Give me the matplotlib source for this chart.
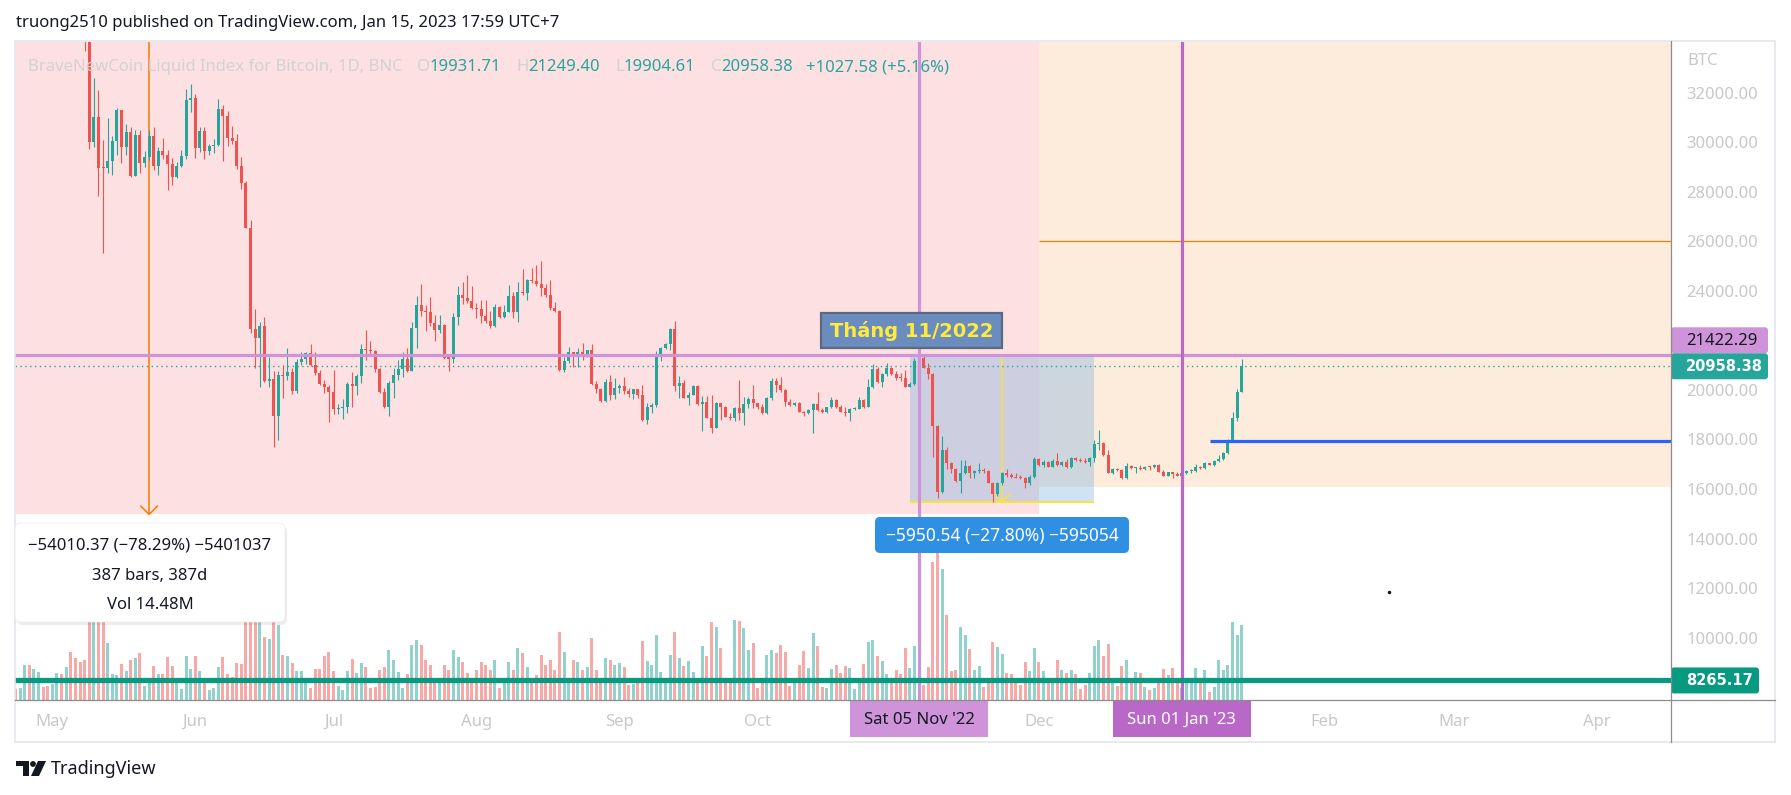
import datetime as dt
import numpy as np
import matplotlib
matplotlib.use("Agg")
import matplotlib.pyplot as plt
import matplotlib.dates as mdates
from matplotlib.patches import Rectangle, FancyBboxPatch, Polygon, Circle

plt.rcParams['font.family'] = ['Noto Sans', 'DejaVu Sans']

# ---------------- data: BNC:BLX daily, prices in thousand USD ----------------
start_day = dt.date(2022, 4, 23)
first_open = 39.70

closes = [
    39.45, 39.45, 40.43, 38.12, 39.24, 39.74, 38.60, 37.71,            # Apr 23-30
    38.47, 38.53, 37.75, 39.70, 36.58, 36.04, 35.50, 34.06, 30.03, 31.02,
    28.98, 28.96, 29.25, 30.06, 31.31, 29.83, 30.41, 28.65, 30.30, 29.16,
    29.43, 30.26, 29.05, 29.65, 29.49, 29.13, 28.59, 29.05, 29.45, 31.72, 31.78,  # May
    29.79, 30.48, 29.66, 29.86, 29.90, 31.35, 31.07, 30.19, 30.07, 29.05,
    28.38, 26.56, 22.45, 22.11, 22.59, 20.38, 20.43, 18.95, 20.61, 20.57,
    20.74, 19.97, 21.15, 21.24, 21.48, 21.01, 20.70, 20.24, 20.13, 19.93,  # Jun
    19.23, 19.26, 19.30, 20.24, 20.18, 20.57, 21.66, 21.62, 21.59, 20.86,
    19.92, 19.31, 20.28, 20.62, 20.85, 21.25, 20.78, 22.49, 23.43, 23.21,
    23.16, 22.69, 22.43, 22.63, 21.31, 21.27, 22.96, 23.85, 23.73, 23.61, 23.30,  # Jul
    23.27, 22.99, 22.80, 22.58, 23.34, 22.96, 23.16, 23.81, 23.17, 23.97,
    23.93, 24.44, 24.39, 24.28, 24.11, 23.84, 23.30, 23.19, 20.81, 21.17,
    21.52, 21.39, 21.52, 21.39, 21.60, 20.24, 20.05, 19.56, 20.31, 19.80, 20.08,  # Aug
    20.18, 19.96, 19.83, 20.03, 19.81, 18.79, 19.33, 19.38, 21.37, 21.68,
    21.85, 22.45, 20.16, 20.27, 19.69, 19.80, 20.16, 19.44, 19.53, 18.88,
    18.48, 19.46, 19.30, 18.92, 18.86, 19.26, 19.08, 19.43, 19.63, 19.46,  # Sep
    19.33, 19.06, 19.69, 20.36, 20.20, 20.00, 19.53, 19.39, 19.49, 19.12,
    19.08, 19.19, 19.43, 19.19, 19.10, 19.30, 19.60, 19.33, 19.12, 19.06,
    19.22, 19.25, 19.60, 19.33, 20.12, 20.83, 20.31, 20.63, 20.88, 20.64, 20.50,  # Oct
    20.47, 20.14, 20.26, 21.17, 21.30, 20.90, 20.63, 18.55, 15.86, 17.57,
    17.04, 16.79, 16.34, 16.66, 16.93, 16.63, 16.71, 16.75, 16.74, 16.26,
    15.78, 16.23, 16.66, 16.57, 16.50, 16.46, 16.43, 16.23, 16.50, 17.21,  # Nov
    16.97, 17.10, 16.90, 17.14, 16.97, 17.10, 16.88, 17.24, 17.17, 17.13,
    17.10, 17.27, 17.80, 17.85, 17.37, 16.66, 16.79, 16.77, 16.46, 16.93,
    16.84, 16.84, 16.79, 16.90, 16.87, 16.97, 16.70, 16.54, 16.67, 16.59, 16.54,  # Dec
    16.63, 16.73, 16.74, 16.90, 16.84, 17.04, 16.97, 17.14, 17.21, 17.47,
    17.98, 18.86, 19.93171, 20.95838,                                    # Jan
]
highs = [
    39.95, 39.90, 40.60, 40.80, 39.45, 40.30, 39.90, 38.80,
    38.65, 39.10, 38.60, 39.90, 39.80, 36.65, 36.10, 35.50, 34.30, 32.59,
    32.12, 30.10, 30.98, 30.26, 31.38, 31.31, 30.75, 30.61, 30.50, 30.50,
    29.67, 30.50, 30.61, 29.83, 30.17, 29.70, 29.36, 29.23, 29.70, 32.15, 32.36,
    31.96, 30.61, 30.61, 29.94, 30.13, 31.74, 31.50, 31.28, 30.67, 30.33,
    29.40, 28.45, 26.87, 23.26, 22.76, 22.94, 21.35, 20.77, 20.77, 21.01,
    21.68, 20.88, 21.24, 21.55, 21.55, 21.86, 21.55, 20.81, 20.40, 20.20,
    20.81, 19.43, 19.62, 20.32, 20.73, 20.65, 21.86, 22.42, 21.98, 21.62,
    20.89, 20.10, 20.35, 20.89, 21.21, 21.55, 21.68, 22.73, 23.80, 24.28,
    23.42, 23.74, 23.03, 23.03, 22.67, 21.35, 23.12, 24.20, 24.36, 24.65, 24.20,
    23.50, 23.64, 23.64, 23.21, 23.47, 23.40, 23.43, 24.24, 23.97, 24.38,
    24.87, 24.47, 24.92, 25.05, 25.21, 24.27, 24.44, 23.57, 23.23, 21.35,
    21.74, 21.55, 21.68, 21.88, 21.63, 21.86, 20.35, 20.08, 20.43, 20.61, 20.50,
    20.24, 20.51, 20.08, 20.05, 20.05, 20.20, 19.46, 19.49, 21.58, 21.75,
    21.90, 22.50, 22.79, 20.57, 20.40, 19.93, 20.20, 20.20, 19.77, 19.77,
    19.80, 19.53, 19.49, 19.35, 19.06, 19.30, 20.40, 19.73, 19.70, 20.20,
    19.49, 19.42, 19.73, 20.47, 20.47, 20.51, 20.03, 19.62, 19.52, 19.53,
    19.15, 19.22, 19.49, 19.93, 19.26, 19.33, 19.73, 19.64, 19.38, 19.33,
    19.26, 19.33, 19.72, 19.62, 20.43, 21.04, 20.94, 20.68, 21.08, 20.94, 20.78,
    20.70, 20.81, 20.34, 21.28, 21.42, 21.37, 21.10, 20.68, 18.59, 18.14,
    17.71, 17.10, 16.84, 17.17, 17.17, 16.97, 16.77, 17.04, 16.84, 16.77,
    16.30, 16.30, 16.69, 16.80, 16.66, 16.66, 16.57, 16.50, 16.57, 17.28,
    17.27, 17.17, 17.14, 17.20, 17.44, 17.13, 17.20, 17.31, 17.31, 17.24,
    17.24, 17.31, 17.98, 18.38, 17.88, 17.57, 16.84, 16.86, 16.82, 17.06,
    16.97, 16.90, 16.97, 16.92, 16.93, 16.99, 17.01, 16.77, 16.70, 16.70, 16.67,
    16.66, 16.77, 16.80, 17.01, 16.94, 17.10, 17.06, 17.17, 17.37, 17.51,
    18.01, 19.12, 20.03, 21.2494,
]
lows = [
    39.30, 39.20, 38.20, 37.70, 37.90, 38.90, 38.20, 37.60,
    37.40, 38.00, 37.50, 37.60, 35.60, 35.30, 34.80, 33.70, 29.75, 29.83,
    27.85, 25.52, 28.75, 28.69, 29.49, 29.16, 29.49, 28.60, 28.64, 28.75,
    29.02, 29.29, 28.89, 28.69, 29.32, 28.08, 28.28, 28.55, 29.00, 29.32, 31.25,
    29.39, 29.63, 29.32, 29.49, 29.56, 29.86, 29.27, 29.86, 29.94, 28.92,
    28.11, 26.53, 22.30, 20.90, 20.13, 20.34, 20.13, 17.68, 17.98, 19.69,
    20.40, 19.83, 19.89, 21.01, 21.04, 20.95, 20.61, 20.20, 19.89, 18.72,
    19.03, 19.02, 18.83, 19.08, 19.30, 19.80, 20.30, 21.21, 21.37, 20.73,
    19.88, 19.27, 18.95, 19.69, 20.40, 20.54, 20.74, 20.78, 21.68, 22.99,
    22.40, 22.60, 21.99, 22.32, 21.26, 20.78, 21.10, 22.63, 23.47, 23.52, 23.26,
    22.90, 22.72, 22.72, 22.49, 22.55, 22.90, 22.89, 23.15, 22.90, 22.76,
    23.85, 23.64, 24.31, 24.20, 23.81, 23.74, 23.23, 23.15, 20.75, 20.74,
    21.10, 20.94, 20.94, 21.21, 21.35, 20.19, 19.87, 19.53, 19.52, 19.60, 19.65,
    19.87, 19.84, 19.73, 19.64, 19.68, 18.75, 18.61, 19.08, 19.33, 21.19,
    21.64, 21.62, 19.97, 19.69, 19.66, 19.40, 19.78, 19.40, 18.36, 18.85,
    18.28, 18.45, 18.79, 18.90, 18.79, 18.76, 18.79, 18.59, 19.26, 19.26,
    19.22, 19.03, 19.03, 19.60, 19.93, 19.93, 19.36, 19.36, 19.36, 19.10,
    18.95, 19.03, 18.28, 19.16, 19.06, 19.08, 19.26, 19.29, 19.10, 18.95,
    18.76, 19.19, 19.22, 19.26, 19.30, 20.09, 20.27, 20.11, 20.57, 20.61, 20.40,
    20.38, 20.11, 20.11, 20.20, 21.10, 20.88, 20.45, 17.30, 15.65, 15.82,
    16.79, 16.66, 16.30, 15.85, 16.61, 16.43, 16.46, 16.63, 16.63, 16.23,
    15.47, 15.73, 16.15, 16.50, 16.43, 16.43, 16.39, 16.05, 16.16, 16.43,
    16.93, 16.88, 16.88, 16.88, 16.94, 16.94, 16.84, 16.84, 17.13, 17.10,
    17.06, 16.94, 17.10, 17.58, 17.33, 16.63, 16.62, 16.74, 16.39, 16.42,
    16.79, 16.63, 16.77, 16.77, 16.77, 16.85, 16.67, 16.53, 16.52, 16.43, 16.52,
    16.52, 16.60, 16.66, 16.70, 16.80, 16.79, 16.95, 16.94, 17.10, 17.17,
    17.41, 17.94, 18.76, 19.90461,
]
# volume (thousand BTC)
volumes = [
    11, 12, 35, 35, 31, 28, 13, 14,
    16, 27, 26, 33, 48, 42, 38, 40, 95, 90, 110, 120, 57, 26, 25, 36, 29, 40,
    42, 47, 14, 17, 34, 26, 26, 43, 34, 18, 11, 44, 31,
    44, 29, 18, 10, 12, 33, 43, 26, 23, 37, 36, 95, 110, 100, 105, 63, 61, 95,
    75, 45, 44, 37, 29, 29, 21, 12, 31, 31, 44, 48,
    29, 14, 10, 29, 41, 27, 37, 33, 12, 13, 30, 33, 50, 40, 28, 12, 26, 55,
    60, 55, 40, 35, 22, 20, 35, 30, 50, 43, 38, 27, 18,
    30, 38, 35, 30, 40, 12, 22, 38, 30, 52, 47, 33, 18, 25, 45, 35, 40, 30,
    68, 48, 20, 40, 38, 30, 33, 62, 30, 22, 42, 40, 35,
    37, 33, 15, 16, 18, 59, 39, 35, 65, 28, 18, 45, 68, 42, 34, 39, 28, 18,
    54, 44, 78, 73, 52, 18, 18, 80, 79, 72, 50, 57,
    12, 18, 45, 50, 47, 55, 48, 14, 17, 35, 49, 32, 67, 54, 13, 12, 31, 35,
    27, 34, 32, 11, 18, 36, 58, 60, 44, 39, 26, 18, 30,
    26, 52, 32, 54, 20, 15, 33, 138, 147, 131, 85, 29, 30, 73, 65, 51, 30, 34,
    13, 18, 58, 53, 46, 27, 26, 17, 15, 38, 29, 52,
    38, 29, 17, 18, 40, 30, 27, 30, 26, 11, 15, 27, 54, 60, 44, 56, 18, 14,
    34, 40, 18, 28, 27, 13, 10, 12, 18, 31, 25, 32, 18,
    12, 17, 18, 32, 18, 30, 8, 13, 40, 30, 35, 78, 65, 75,
]

price_ticks = [10000, 12000, 14000, 16000, 18000, 20000, 24000, 26000, 28000, 30000, 32000]
month_ticks = [dt.date(2022, 5, 1), dt.date(2022, 6, 1), dt.date(2022, 7, 1), dt.date(2022, 8, 1),
               dt.date(2022, 9, 1), dt.date(2022, 10, 1), dt.date(2022, 12, 1), dt.date(2023, 2, 1),
               dt.date(2023, 3, 1), dt.date(2023, 4, 1)]
month_labels = ["May", "Jun", "Jul", "Aug", "Sep", "Oct", "Dec", "Feb", "Mar", "Apr"]

last_price = 20958.38
nov_high = 21422.29
range_low = 15471.75
support = 8265.17
blue_level = 17940
pink_top, pink_bottom = 68985, 14975
beige_top, beige_mid, beige_bottom = 35960, 26020, 16080

# ---------------- prep ----------------
c = np.array(closes) * 1000
h = np.array(highs) * 1000
l = np.array(lows) * 1000
o = np.concatenate([[first_open * 1000], c[:-1]])
n = len(c)
x = mdates.date2num([start_day + dt.timedelta(days=i) for i in range(n)])
up = c >= o


def d(y, m, dd):
    return mdates.date2num(dt.date(y, m, dd))


GREEN, RED = '#26a69a', '#ef5350'
BOLD = ['DejaVu Sans']
W, H = 1791, 795
fig = plt.figure(figsize=(W / 100, H / 100), dpi=100, facecolor='white')
ax = fig.add_axes([15 / W, 1 - 700 / H, 1656 / W, 658 / H])
vol = ax.twinx()
ax.set_zorder(2)
vol.set_zorder(1)
ax.patch.set_visible(False)

jan1 = d(2023, 1, 1)
ax.set_xlim(jan1 - 253.1, jan1 + 106.1)
ax.set_ylim(7475, 34060)
vol.set_ylim(0, 658)
vol.axis('off')

# volume
vol.bar(x, volumes, width=0.65, color=np.where(up, '#92d2cc', '#f7a9a7'), linewidth=0)

# drawing tools in the background
ax.add_patch(Rectangle((d(2021, 11, 10), pink_bottom), d(2022, 12, 1) - d(2021, 11, 10),
                       pink_top - pink_bottom, fc='#fde0e2', ec='none', zorder=0))
ax.add_patch(Rectangle((d(2022, 12, 1), beige_bottom), d(2023, 8, 1) - d(2022, 12, 1),
                       beige_top - beige_bottom, fc='#fdecdc', ec='none', zorder=0))
ax.hlines(beige_mid, d(2022, 12, 1), d(2023, 8, 1), color='#f57c00', lw=0.9, zorder=1)
may22 = d(2022, 5, 22)
ax.vlines(may22, pink_bottom, pink_top, color='#f57c00', lw=1.1, zorder=1)
ax.plot([may22 - 1.8, may22, may22 + 1.8], [pink_bottom + 330, pink_bottom, pink_bottom + 330],
        color='#f57c00', lw=1.1, zorder=1)

nov3, dec13, nov23 = d(2022, 11, 3), d(2022, 12, 13), d(2022, 11, 23)
ax.add_patch(Rectangle((nov3, range_low), dec13 - nov3, nov_high - range_low,
                       fc=(0.384, 0.647, 0.882, 0.3), ec='none', zorder=1))
ax.hlines([range_low, nov_high], nov3, dec13, color='#f9e43a', lw=1.4, zorder=2)
ax.vlines(nov23, range_low, nov_high, color='#f9e43a', lw=1.1, zorder=2)
ax.plot([nov23 - 1.8, nov23, nov23 + 1.8], [range_low + 330, range_low, range_low + 330],
        color='#f9e43a', lw=1.1, zorder=2)

ax.axhline(last_price, color=GREEN, lw=1, ls=(0, (1, 2.5)), zorder=2.5)

# candles
cols = np.where(up, GREEN, RED)
ax.vlines(x, l, h, colors=cols, lw=0.8, zorder=3)
body = np.maximum(np.abs(c - o), 45)
ax.bar(x, body, bottom=np.minimum(o, c), width=0.65, color=cols, linewidth=0, zorder=3)

# lines
ax.axhline(nov_high, color='#ce93d8', lw=2.3, zorder=4)
ax.axvline(d(2022, 11, 5), color='#ce93d8', lw=2.3, zorder=4)
ax.axvline(jan1, color='#ba68c8', lw=2.3, zorder=4)
ax.hlines(blue_level, d(2023, 1, 7), d(2023, 8, 1), color='#2962ff', lw=2.3, zorder=4)
ax.axhline(support, color='#089981', lw=3.8, zorder=5)

# axes
for s in ax.spines.values():
    s.set_visible(False)
ax.yaxis.tick_right()
ax.set_yticks(price_ticks)
ax.set_yticklabels([f"{p:.2f}" for p in price_ticks])
ax.tick_params(axis='y', length=0, pad=11, labelsize=12, labelcolor='#c8c8c8')
ax.set_xticks(mdates.date2num(month_ticks))
ax.set_xticklabels(month_labels)
ax.tick_params(axis='x', length=0, pad=10, labelsize=12, labelcolor='#c8c8c8')

# ---------------- overlay (pixel coordinates) ----------------
ov = fig.add_axes([0, 0, 1, 1], zorder=10)
ov.set_xlim(0, W)
ov.set_ylim(H, 0)
ov.axis('off')


def ypx(price):
    return H - ax.transData.transform((0, price))[1]


def xpx(day):
    return ax.transData.transform((day, 0))[0]


ov.add_patch(Rectangle((15, 41), 1760, 701, fill=False, ec='#e3e5ec', lw=1.2))
ov.plot([1671, 1671], [41, 742], color='#8c8c8c', lw=0.9)
ov.plot([15, 1775], [700, 700], color='#8c8c8c', lw=0.9)

ov.text(16, 23, "truong2510 published on TradingView.com, Jan 15, 2023 17:59 UTC+7",
        fontsize=12, color='#131722', va='center')
ov.text(1687, 61, "BTC", fontsize=12, color='#c8c8c8', va='center')

# legend line
fig.canvas.draw()
rend = fig.canvas.get_renderer()
pieces = [("BraveNewCoin Liquid Index for Bitcoin, 1D, BNC", '#d2d2d2', 14),
          ("O", '#d2d2d2', 0), ("19931.71", GREEN, 15),
          ("H", '#d2d2d2', 0), ("21249.40", GREEN, 15),
          ("L", '#d2d2d2', 0), ("19904.61", GREEN, 15),
          ("C", '#d2d2d2', 0), ("20958.38", GREEN, 13),
          ("+1027.58 (+5.16%)", GREEN, 0)]
xx = 28
for txt, col, gap in pieces:
    t = ov.text(xx, 67, txt, fontsize=12, color=col, va='center')
    xx += t.get_window_extent(renderer=rend).width + gap

# price axis labels
for price, dy, fc, tc, bold, wbox in [(nov_high, -14.5, '#ce93d8', '#131722', False, 97),
                                      (last_price, 0, GREEN, 'white', True, 97),
                                      (support, 0, '#089981', 'white', True, 88)]:
    yc = ypx(price) + dy
    ov.add_patch(FancyBboxPatch((1671, yc - 13), wbox, 26,
                                boxstyle="round,pad=0,rounding_size=3", fc=fc, ec='none'))
    if bold:
        ov.text(1686, yc + 0.5, f"{price:.2f}", fontsize=10.5, color=tc, va='center',
                fontweight='bold', family=BOLD)
    else:
        ov.text(1686, yc + 1, f"{price:.2f}", fontsize=12, color=tc, va='center')

# date labels on time axis
for day, txt, fc, tc in [(d(2022, 11, 5), "Sat 05 Nov '22", '#ce93d8', '#131722'),
                         (jan1, "Sun 01 Jan '23", '#ba68c8', 'white')]:
    xc = xpx(day)
    ov.add_patch(Rectangle((xc - 69, 700), 138, 37, fc=fc, ec='none'))
    ov.text(xc, 720, txt, fontsize=12, color=tc, ha='center', va='center')

# "Tháng 11/2022" note
ov.add_patch(Rectangle((821, 313), 181, 35, fc='#6a8cbf', ec='#5c6a7d', lw=1.6))
ov.text(911.5, 331, "Tháng 11/2022", fontsize=14, fontweight='bold', color='#ffeb3b',
        ha='center', va='center', family=BOLD)

# price range label
ov.add_patch(FancyBboxPatch((875, 517), 254, 36, boxstyle="round,pad=0,rounding_size=5",
                            fc='#2f8fe2', ec='none'))
ov.text(1002, 535.5, "\u22125950.54 (\u221227.80%) \u2212595054", fontsize=12.5,
        color='white', ha='center', va='center')

# date & price range tooltip
ov.add_patch(FancyBboxPatch((17, 526), 270, 99, boxstyle="round,pad=0,rounding_size=6",
                            fc='black', ec='none', alpha=0.07))
ov.add_patch(FancyBboxPatch((15, 523), 270, 99, boxstyle="round,pad=0,rounding_size=6",
                            fc='white', ec='#ececec', lw=0.6))
for yy, txt in [(546, "\u221254010.37 (\u221278.29%) \u22125401037"),
                (576, "387 bars, 387d"), (605, "Vol 14.48M")]:
    ov.text(150, yy, txt, fontsize=12, color='#131722', ha='center', va='center')

ov.plot([1389], [592], marker='o', ms=1.5, color='#131722')

# TradingView logo
ov.add_patch(Rectangle((16, 761), 13, 5, fc='#131722', ec='none'))
ov.add_patch(Rectangle((23, 761), 6, 15, fc='#131722', ec='none'))
ov.add_patch(Circle((33, 764), 2.9, fc='#131722', ec='none'))
ov.add_patch(Polygon([(38, 761), (46, 761), (39, 776), (31, 776)], closed=True,
                     fc='#131722', ec='none'))
ov.text(51, 769, "TradingView", fontsize=13, color='#131722', va='center')

fig.savefig("out.png", dpi=100, facecolor='white')
